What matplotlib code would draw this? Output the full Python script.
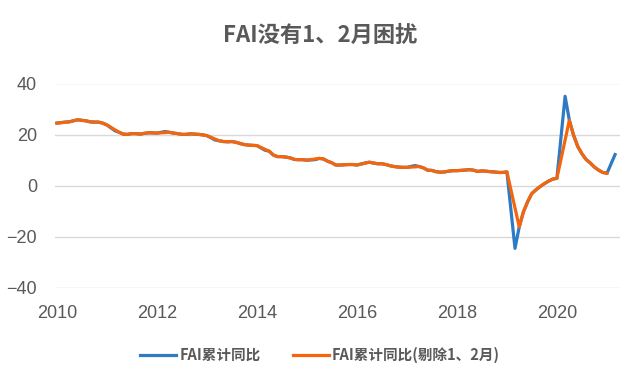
import matplotlib
matplotlib.use("Agg")
import matplotlib.pyplot as plt
import matplotlib.dates as mdates
import pandas as pd

# FAI cumulative YoY (%), as placed on the chart's date axis.
# first point is December 2009, then Feb..Dec of each year 2010-2020, then Feb 2021
start_value = [24.5]
fai_2010 = [24.9, 25.0, 25.4, 25.8, 25.6, 25.4, 25.0, 24.9, 24.9, 24.5, 23.8]
fai_2011 = [21.5, 20.9, 20.2, 20.1, 20.4, 20.4, 20.2, 20.5, 20.7, 20.7, 20.6]
fai_2012 = [21.2, 20.9, 20.6, 20.4, 20.1, 20.1, 20.3, 20.2, 20.1, 19.9, 19.6]
fai_2013 = [17.9, 17.6, 17.3, 17.2, 17.3, 17.0, 16.5, 16.1, 15.9, 15.8, 15.7]
fai_2014 = [13.9, 13.5, 12.0, 11.4, 11.4, 11.2, 10.9, 10.3, 10.2, 10.2, 10.0]
fai_2015 = [10.2, 10.7, 10.5, 9.6, 9.0, 8.1, 8.1, 8.2, 8.3, 8.3, 8.1]
fai_2016 = [8.9, 9.2, 8.9, 8.6, 8.6, 8.3, 7.8, 7.5, 7.3, 7.2, 7.2]
fai_2017 = [7.9, 7.5, 7.0, 6.1, 6.0, 5.5, 5.3, 5.4, 5.7, 5.9, 5.9]
fai_2018 = [6.1, 6.3, 6.1, 5.6, 5.8, 5.7, 5.5, 5.4, 5.2, 5.2, 5.4]
fai_2019 = [-24.5, -16.1, -10.3, -6.3, -3.1, -1.6, -0.3, 0.8, 1.8, 2.6, 2.9]
fai_2020 = [35.0, 25.6, 19.9, 15.4, 12.6, 10.3, 8.9, 7.3, 6.1, 5.2, 4.9]
end_value = [12.2]

yearly = [fai_2010, fai_2011, fai_2012, fai_2013, fai_2014, fai_2015,
          fai_2016, fai_2017, fai_2018, fai_2019, fai_2020]
values = start_value + sum(yearly, []) + end_value

# month-end dates, no January (Jan and Feb are published together)
dates = pd.date_range("2009-12-31", "2021-02-28", freq="ME")
dates = dates[dates.month != 1]

df = pd.DataFrame({"date": dates, "fai": values})
# series excluding Jan-Feb: drop the February points, ends Dec 2020
ex = df[(df["date"].dt.month != 2) & (df["date"] <= "2020-12-31")]

title = "FAI没有1、2月困扰"
label_all = "FAI累计同比"
label_ex = "FAI累计同比(剔除1、2月)"

blue = "#2E7BC4"
orange = "#F4650C"
grey = "#595959"

cjk = ["Noto Sans CJK SC", "DejaVu Sans"]
plt.rcParams["font.family"] = ["Liberation Sans", "DejaVu Sans"]

fig = plt.figure(figsize=(6.4, 3.84), dpi=100)
ax = fig.add_axes([55 / 640, 1 - 288 / 384, 565 / 640, 204.5 / 384])

ax.plot(df["date"], df["fai"], color=blue, lw=2.3, label=label_all,
        solid_joinstyle="round", zorder=3)
ax.plot(ex["date"], ex["fai"], color=orange, lw=2.3, label=label_ex,
        solid_joinstyle="round", zorder=4)

ax.set_ylim(-40, 40)
ax.set_yticks([-40, -20, 0, 20, 40])
ax.set_xlim(pd.Timestamp("2009-12-17"), pd.Timestamp("2021-04-05"))
ax.xaxis.set_major_locator(mdates.YearLocator(2))
ax.xaxis.set_major_formatter(mdates.DateFormatter("%Y"))

ax.grid(axis="y", color="#D9D9D9", lw=1)
ax.set_axisbelow(True)
for s in ax.spines.values():
    s.set_visible(False)
ax.tick_params(axis="both", length=0, labelsize=13, labelcolor=grey)
ax.tick_params(axis="y", pad=13)
ax.tick_params(axis="x", pad=12)

fig.text(0.5, 1 - 35 / 384, title, ha="center", va="center", fontsize=16,
         fontweight="bold", color=grey, family=cjk)

leg = fig.legend(loc="center", bbox_to_anchor=(0.5, 1 - 355 / 384), ncol=2,
                 frameon=False, handlelength=2.5, columnspacing=2.2,
                 handletextpad=0.2,
                 prop={"family": cjk, "size": 10.5, "weight": "bold"})
for t in leg.get_texts():
    t.set_color(grey)

fig.savefig("out.png", dpi=100)
